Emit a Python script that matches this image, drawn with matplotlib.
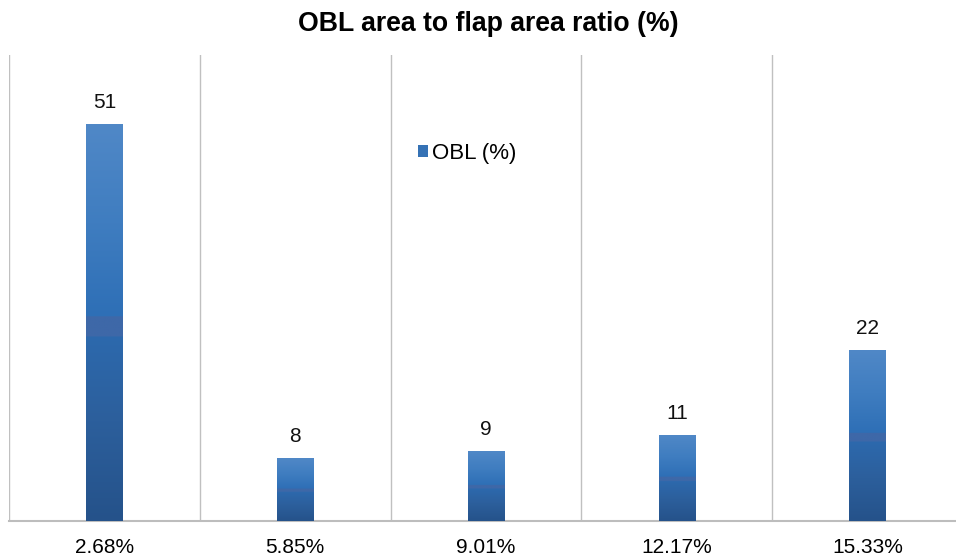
import numpy as np
import matplotlib
matplotlib.use('Agg')
import matplotlib.pyplot as plt
from matplotlib.colors import LinearSegmentedColormap
from matplotlib.patches import Patch

categories = ['2.68%', '5.85%', '9.01%', '12.17%', '15.33%']
obl = [51, 8, 9, 11, 22]

plt.rcParams['font.family'] = ['Liberation Sans', 'DejaVu Sans']
fs = 15

# vertical gradient used inside the bars (bottom -> top)
grad = LinearSegmentedColormap.from_list('bargrad', [
    (0.00, '#25528a'),
    (0.25, '#2c5f9c'),
    (0.465, '#2d69ad'),
    (0.466, '#3e68a8'),
    (0.515, '#3e68a8'),
    (0.516, '#2e6fb6'),
    (0.75, '#3f7dc0'),
    (1.00, '#5088c7'),
])

fig = plt.figure(figsize=(9.56, 5.58), dpi=100)
ax = fig.add_axes([9/956, 1-521/558, 954/956, (521-55)/558])

x = np.arange(len(categories))
bars = ax.bar(x, obl, width=0.19, color='none', edgecolor='none', zorder=3)
gvals = np.linspace(0, 1, 256).reshape(-1, 1)
for b, v in zip(bars, obl):
    x0 = b.get_x()
    ax.imshow(gvals, cmap=grad, origin='lower', aspect='auto',
              extent=[x0, x0 + b.get_width(), 0, b.get_height()], zorder=3)
    ax.text(b.get_x() + b.get_width()/2, v + 1.6, str(v), ha='center', va='bottom',
            fontsize=fs, color='#111111')

ax.set_xlim(-0.5, len(categories) - 0.5)
ax.set_ylim(0, 60)
ax.set_xticks(x)
ax.set_xticklabels(categories, fontsize=fs)
ax.tick_params(axis='x', length=0, pad=12)
ax.set_yticks([])
for xv in np.arange(-0.5, len(categories), 1.0):
    ax.axvline(xv, color='#c0c0c0', lw=1.0, zorder=1)
for s in ['top', 'right', 'left']:
    ax.spines[s].set_visible(False)
ax.spines['bottom'].set_color('#bdbdbd')
ax.spines['bottom'].set_linewidth(1.5)

fig.text(488/956, 1-24/558, 'OBL area to flap area ratio (%)', ha='center', va='center',
         fontsize=19.2, fontweight='bold')

leg = ax.legend(handles=[Patch(facecolor='#3572b5', edgecolor='none', label='OBL (%)')],
                loc='center left', bbox_to_anchor=(418/956, 1-153/558),
                bbox_transform=fig.transFigure, frameon=False, fontsize=16,
                handlelength=0.45, handleheight=0.45, handletextpad=0.2, borderpad=0,
                borderaxespad=0)

plt.savefig('out.png', dpi=100)
plt.close()
